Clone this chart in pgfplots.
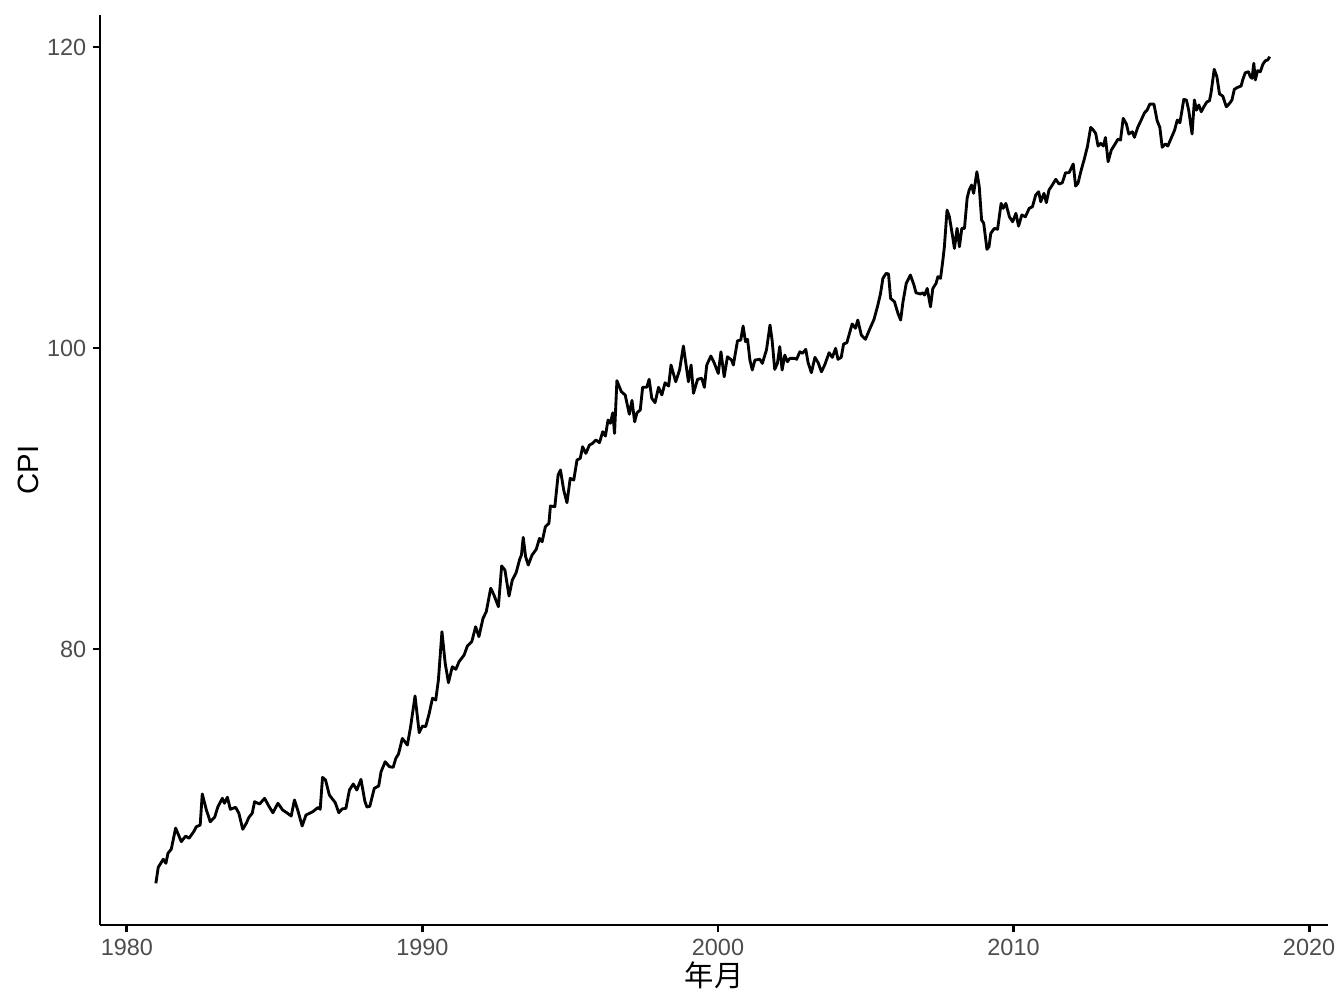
\documentclass[border=0pt]{standalone}
\usepackage{pgfplots}
\pgfplotsset{compat=1.18}
\usepackage{fontspec}
\setmainfont{Liberation Sans}
\newfontfamily\cjk{Noto Sans CJK SC}
\definecolor{gray30}{RGB}{77,77,77}
\begin{document}
\begin{tikzpicture}
\begin{axis}[
  scale only axis, width=460.5pt, height=341.25pt,
  xmin=1979.09, xmax=2020.64, ymin=61.66, ymax=122.13,
  axis lines=left,
  axis line style={-, line width=1.07pt, black},
  xtick={1980,1990,2000,2010,2020},
  xticklabels={1980,1990,2000,2010,2020},
  ytick={80,100,120},
  tick align=outside, major tick length=2.75pt,
  tick style={line width=1.07pt, black},
  /pgf/number format/assume math mode=true,
  tick label style={font=\fontsize{8.8}{10}\selectfont, text=gray30, inner sep=0pt},
  xticklabel style={anchor=north, yshift=-2.2pt},
  yticklabel style={anchor=east, xshift=-2.2pt},
  xlabel={\cjk 年月}, ylabel={CPI},
  label style={font=\fontsize{11}{13}\selectfont, inner sep=0pt},
  xlabel style={at={([yshift=-22.9pt]axis description cs:0.5,0)}, anchor=base},
  ylabel style={at={([xshift=-23.25pt]axis description cs:0,0.5)}, anchor=base},
]
\addplot[black, line width=1.07pt, line join=round, mark=none] table {
x y
1980.98 64.43
1981.06 65.49
1981.23 66.03
1981.32 65.76
1981.39 66.43
1981.50 66.69
1981.65 68.10
1981.84 67.20
1981.99 67.57
1982.10 67.42
1982.26 67.86
1982.35 68.19
1982.48 68.30
1982.55 70.37
1982.69 69.30
1982.82 68.52
1982.97 68.82
1983.08 69.52
1983.23 70.08
1983.30 69.75
1983.40 70.15
1983.50 69.35
1983.68 69.48
1983.79 69.08
1983.92 68.02
1984.04 68.42
1984.13 68.82
1984.24 69.08
1984.32 69.85
1984.49 69.70
1984.66 70.08
1984.80 69.57
1984.94 69.12
1985.11 69.75
1985.27 69.30
1985.41 69.12
1985.56 68.90
1985.67 69.97
1985.78 69.30
1985.93 68.24
1986.06 68.97
1986.29 69.19
1986.46 69.46
1986.54 69.35
1986.62 71.47
1986.72 71.30
1986.85 70.30
1987.05 69.79
1987.17 69.12
1987.28 69.37
1987.41 69.41
1987.53 70.63
1987.66 71.03
1987.78 70.63
1987.92 71.34
1988.05 69.90
1988.12 69.50
1988.22 69.55
1988.37 70.74
1988.52 70.90
1988.60 71.85
1988.74 72.51
1988.88 72.18
1989.01 72.14
1989.10 72.74
1989.19 73.02
1989.32 74.06
1989.49 73.62
1989.60 74.84
1989.75 76.88
1989.89 74.44
1990.00 74.88
1990.11 74.84
1990.23 75.73
1990.34 76.73
1990.45 76.61
1990.54 77.94
1990.66 81.15
1990.77 79.05
1990.88 77.76
1991.01 78.82
1991.13 78.65
1991.24 79.16
1991.41 79.60
1991.52 80.20
1991.67 80.49
1991.80 81.48
1991.91 80.82
1992.05 82.04
1992.16 82.48
1992.31 84.04
1992.42 83.59
1992.57 82.81
1992.68 85.52
1992.79 85.25
1992.93 83.52
1993.04 84.58
1993.17 85.07
1993.29 85.96
1993.35 86.25
1993.41 87.42
1993.49 86.14
1993.58 85.58
1993.71 86.25
1993.85 86.62
1993.96 87.35
1994.05 87.13
1994.16 88.13
1994.28 88.35
1994.33 89.50
1994.48 89.46
1994.59 91.56
1994.67 91.89
1994.78 90.56
1994.89 89.72
1995.00 91.34
1995.12 91.23
1995.23 92.56
1995.34 92.67
1995.42 93.44
1995.53 93.00
1995.65 93.55
1995.76 93.67
1995.87 93.89
1995.99 93.71
1996.10 94.44
1996.19 94.15
1996.28 95.22
1996.36 95.00
1996.44 95.70
1996.50 94.33
1996.58 97.83
1996.73 97.10
1996.86 96.88
1997.00 95.60
1997.09 96.52
1997.18 95.10
1997.26 95.70
1997.37 95.88
1997.45 97.39
1997.59 97.39
1997.67 97.92
1997.76 96.66
1997.87 96.37
1997.99 97.39
1998.10 96.88
1998.21 97.69
1998.33 97.47
1998.41 98.87
1998.57 97.76
1998.70 98.54
1998.83 100.13
1999.00 97.76
1999.09 98.87
1999.17 96.99
1999.31 97.92
1999.45 97.99
1999.54 97.39
1999.62 98.87
1999.76 99.47
1999.87 99.02
2000.01 98.31
2000.10 99.75
2000.21 98.09
2000.32 99.42
2000.46 99.20
2000.52 98.87
2000.66 100.48
2000.77 100.53
2000.85 101.46
2000.93 100.42
2001.00 100.58
2001.08 99.20
2001.16 98.54
2001.25 99.20
2001.42 99.25
2001.50 98.98
2001.64 99.87
2001.76 101.53
2001.83 100.53
2001.92 98.58
2002.01 98.98
2002.09 100.09
2002.17 98.54
2002.26 99.53
2002.35 99.09
2002.43 99.31
2002.60 99.31
2002.66 99.25
2002.77 99.75
2002.86 99.65
2002.97 99.91
2003.05 99.02
2003.16 98.36
2003.28 99.38
2003.39 99.02
2003.50 98.42
2003.61 98.87
2003.76 99.69
2003.87 99.38
2003.98 99.98
2004.06 99.25
2004.17 99.38
2004.25 100.27
2004.36 100.35
2004.45 100.98
2004.54 101.60
2004.65 101.31
2004.73 101.86
2004.85 100.86
2004.99 100.58
2005.13 101.24
2005.28 101.91
2005.41 102.86
2005.50 103.63
2005.58 104.63
2005.69 104.96
2005.77 104.92
2005.84 103.30
2005.97 103.08
2006.09 102.30
2006.18 101.86
2006.26 103.08
2006.37 104.30
2006.51 104.85
2006.63 104.19
2006.70 103.67
2006.85 103.59
2006.93 103.67
2006.99 103.52
2007.08 103.96
2007.19 102.74
2007.27 103.96
2007.38 104.30
2007.44 104.74
2007.53 104.63
2007.61 105.85
2007.66 106.73
2007.75 109.17
2007.83 108.72
2007.94 107.40
2008.00 106.62
2008.09 107.95
2008.17 106.73
2008.25 107.95
2008.34 107.95
2008.43 109.95
2008.50 110.50
2008.58 110.83
2008.65 110.28
2008.76 111.71
2008.84 110.72
2008.92 108.50
2008.99 108.30
2009.10 106.56
2009.17 106.73
2009.23 107.62
2009.35 107.95
2009.46 107.89
2009.58 109.61
2009.65 109.28
2009.74 109.61
2009.86 108.72
2009.97 108.39
2010.08 108.95
2010.17 108.10
2010.28 108.84
2010.40 108.72
2010.53 109.28
2010.64 109.39
2010.75 110.17
2010.85 110.39
2010.92 109.72
2011.03 110.28
2011.11 109.66
2011.20 110.50
2011.31 110.83
2011.43 111.21
2011.54 110.90
2011.65 110.98
2011.76 111.65
2011.88 111.65
2012.02 112.23
2012.10 110.76
2012.18 110.94
2012.29 111.83
2012.40 112.60
2012.50 113.38
2012.61 114.66
2012.70 114.48
2012.78 114.26
2012.86 113.42
2012.95 113.60
2013.04 113.42
2013.11 113.99
2013.20 112.38
2013.31 113.16
2013.45 113.60
2013.53 113.87
2013.62 113.82
2013.71 115.26
2013.82 114.88
2013.90 114.22
2014.02 114.37
2014.09 114.00
2014.21 114.70
2014.32 115.15
2014.43 115.63
2014.52 115.81
2014.61 116.21
2014.75 116.21
2014.86 115.10
2014.95 114.66
2015.03 113.34
2015.14 113.56
2015.22 113.42
2015.33 113.93
2015.45 114.48
2015.54 115.15
2015.63 114.97
2015.76 116.52
2015.85 116.48
2015.93 115.77
2016.04 114.22
2016.12 116.48
2016.19 115.81
2016.27 116.15
2016.35 115.70
2016.44 116.03
2016.54 116.35
2016.63 116.43
2016.68 116.92
2016.79 118.52
2016.88 118.03
2016.97 116.88
2017.08 116.74
2017.20 116.03
2017.31 116.26
2017.39 116.48
2017.47 117.19
2017.58 117.32
2017.70 117.41
2017.76 117.85
2017.84 118.29
2017.95 118.36
2018.01 118.03
2018.07 117.92
2018.13 118.92
2018.18 117.81
2018.26 118.43
2018.35 118.36
2018.44 118.87
2018.52 119.09
2018.60 119.14
2018.67 119.36
};
\end{axis}
\pgfresetboundingbox
\path[use as bounding box] ([shift={(-37.5pt,-31.125pt)}]current axis.south west) rectangle ([shift={(6pt,5.625pt)}]current axis.north east);
\end{tikzpicture}
\end{document}
